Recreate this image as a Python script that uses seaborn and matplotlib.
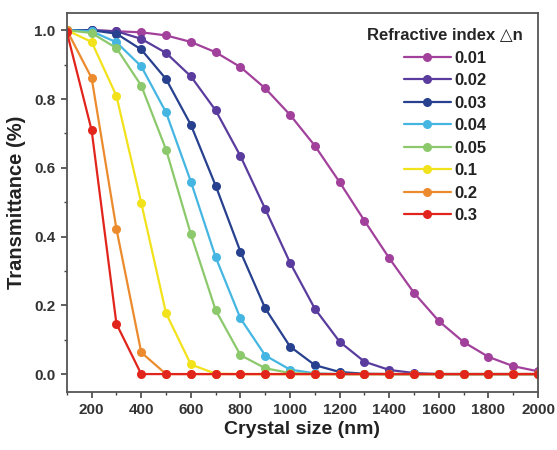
import numpy as np
import pandas as pd
import matplotlib
matplotlib.use("Agg")
import matplotlib.pyplot as plt
import seaborn as sns
from matplotlib.ticker import MultipleLocator

# Crystal size (nm) sampled every 100 nm
sizes = [100, 200, 300, 400, 500, 600, 700, 800, 900, 1000,
         1100, 1200, 1300, 1400, 1500, 1600, 1700, 1800, 1900, 2000]

# Refractive index difference labels
dn_labels = ["0.01", "0.02", "0.03", "0.04", "0.05", "0.1", "0.2", "0.3"]

# Transmittance for each refractive index difference
t_001 = [1.0, 1.0, 0.997, 0.994, 0.985, 0.966, 0.936, 0.893, 0.831, 0.754,
         0.664, 0.558, 0.446, 0.337, 0.236, 0.154, 0.093, 0.050, 0.023, 0.008]
t_002 = [1.0, 1.0, 0.997, 0.975, 0.934, 0.866, 0.767, 0.634, 0.480, 0.324,
         0.190, 0.094, 0.036, 0.012, 0.003, 0.0, 0.0, 0.0, 0.0, 0.0]
t_003 = [1.0, 1.0, 0.990, 0.944, 0.858, 0.725, 0.548, 0.356, 0.191, 0.080,
         0.026, 0.006, 0.001, 0.0, 0.0, 0.0, 0.0, 0.0, 0.0, 0.0]
t_004 = [1.0, 0.997, 0.965, 0.895, 0.761, 0.560, 0.340, 0.162, 0.054, 0.013,
         0.002, 0.0, 0.0, 0.0, 0.0, 0.0, 0.0, 0.0, 0.0, 0.0]
t_005 = [1.0, 0.992, 0.948, 0.839, 0.653, 0.407, 0.186, 0.055, 0.017, 0.003,
         0.0, 0.0, 0.0, 0.0, 0.0, 0.0, 0.0, 0.0, 0.0, 0.0]
t_01 = [1.0, 0.966, 0.809, 0.498, 0.177, 0.028, 0.001, 0.0, 0.0, 0.0,
        0.0, 0.0, 0.0, 0.0, 0.0, 0.0, 0.0, 0.0, 0.0, 0.0]
t_02 = [1.0, 0.861, 0.422, 0.063, 0.0, 0.0, 0.0, 0.0, 0.0, 0.0,
        0.0, 0.0, 0.0, 0.0, 0.0, 0.0, 0.0, 0.0, 0.0, 0.0]
t_03 = [0.995, 0.709, 0.146, 0.0, 0.0, 0.0, 0.0, 0.0, 0.0, 0.0,
        0.0, 0.0, 0.0, 0.0, 0.0, 0.0, 0.0, 0.0, 0.0, 0.0]

series = [t_001, t_002, t_003, t_004, t_005, t_01, t_02, t_03]

colors = ["#a2419b", "#5a3c9e", "#27418f", "#45b6e2",
          "#8cc96c", "#f1e21c", "#ec8b2d", "#e1251c"]

frames = []
for lab, vals in zip(dn_labels, series):
    frames.append(pd.DataFrame({"size": sizes, "T": vals, "dn": lab}))
df = pd.concat(frames, ignore_index=True)

sns.set_style("white")
plt.rcParams["font.family"] = ["Liberation Sans", "DejaVu Sans"]
plt.rcParams["font.weight"] = "bold"

fig = plt.figure(figsize=(5.57, 4.5), dpi=100)
ax = fig.add_axes([0.120, 0.129, 0.846, 0.842])

sns.lineplot(data=df, x="size", y="T", hue="dn", hue_order=dn_labels,
             palette=colors, marker="o", markersize=6.5, markeredgewidth=0,
             linewidth=1.6, ax=ax)

ax.set_xlim(100, 2000)
ax.set_ylim(-0.052, 1.05)
ax.xaxis.set_major_locator(MultipleLocator(200))
ax.xaxis.set_minor_locator(MultipleLocator(100))
ax.yaxis.set_major_locator(MultipleLocator(0.2))
ax.yaxis.set_minor_locator(MultipleLocator(0.1))
ax.set_xticks([200, 400, 600, 800, 1000, 1200, 1400, 1600, 1800, 2000])
ax.tick_params(axis="both", which="major", direction="out", length=4,
               width=1.2, labelsize=11, color="#444444", bottom=True, left=True,
               pad=4)
ax.tick_params(axis="both", which="minor", direction="out", length=2.5,
               width=1.0, color="#444444", bottom=True, left=True)
for lbl in ax.get_xticklabels() + ax.get_yticklabels():
    lbl.set_fontweight("bold")
    lbl.set_color("#333333")

for sp in ax.spines.values():
    sp.set_color("#555555")
    sp.set_linewidth(1.3)

ax.set_xlabel("Crystal size (nm)", fontsize=14, fontweight="bold",
              color="#222222", labelpad=3)
ax.set_ylabel("Transmittance (%)", fontsize=14.5, fontweight="bold",
              color="#222222", labelpad=6)

leg = ax.legend(title="Refractive index \u25b3n", loc="upper right",
                frameon=False, fontsize=12, title_fontsize=12,
                handlelength=2.8, handletextpad=0.2, labelspacing=0.45,
                borderaxespad=0.5)
leg.get_title().set_fontweight("bold")
for txt in leg.get_texts():
    txt.set_fontweight("bold")
    txt.set_color("#222222")

fig.savefig("out.png", dpi=100, facecolor="white")
